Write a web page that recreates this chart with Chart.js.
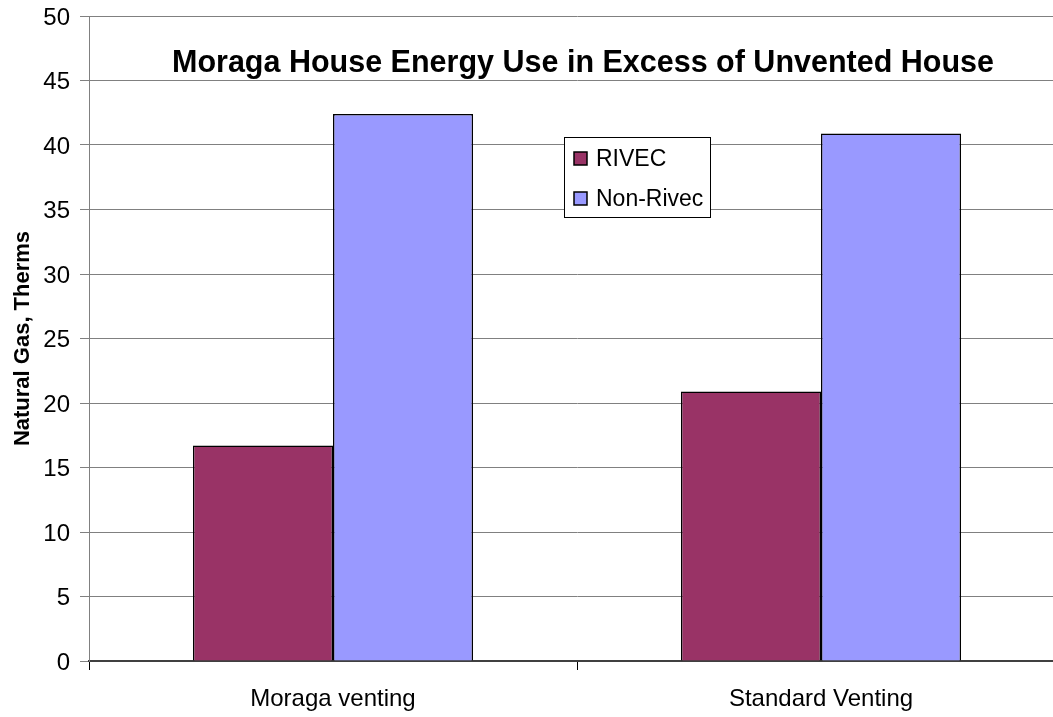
<!DOCTYPE html>
<html>
<head>
<meta charset="utf-8">
<script src="https://cdn.jsdelivr.net/npm/chart.js@4/dist/chart.umd.min.js"></script>
<style>
html,body{margin:0;padding:0;overflow:hidden;background:#fff;width:1053px;height:717px;}
canvas{display:block;}
</style>
</head>
<body>
<canvas id="c" width="1066" height="717"></canvas>
<script>
const categories = ['Moraga venting', 'Standard Venting'];
const seriesNames = ['RIVEC', 'Non-Rivec'];
const rivecValues = [16.7, 20.9];
const nonRivecValues = [42.4, 40.9];
const seriesColors = ['#993366', '#9999FF'];
const chartTitle = 'Moraga House Energy Use in Excess of Unvented House';
const yAxisTitle = 'Natural Gas, Therms';
const yMin = 0, yMax = 50, yStep = 5;

const FONT = '"Liberation Sans", Arial, sans-serif';

const overlayPlugin = {
  id: 'overlay',
  afterDatasetsDraw(chart) {
    const ctx = chart.ctx;
    const a = chart.chartArea;
    ctx.save();
    // title
    ctx.font = 'bold 30.5px ' + FONT;
    ctx.fillStyle = '#000';
    ctx.textAlign = 'center';
    ctx.textBaseline = 'middle';
    ctx.fillText(chartTitle, a.left + 494, a.top + 48);
    // legend
    const lx = a.left + 475, ly = a.top + 121, lw = 146, lh = 80;
    ctx.fillStyle = '#fff';
    ctx.fillRect(lx, ly, lw, lh);
    ctx.strokeStyle = '#000';
    ctx.lineWidth = 1;
    ctx.strokeRect(lx + 0.5, ly + 0.5, lw, lh);
    ctx.font = '23px ' + FONT;
    ctx.textAlign = 'left';
    chart.data.datasets.forEach((ds, i) => {
      const cy = ly + 22 + i * 40;
      ctx.fillStyle = ds.backgroundColor;
      ctx.fillRect(lx + 10, cy - 7, 13, 13);
      ctx.lineWidth = 1.5;
      ctx.strokeStyle = '#000';
      ctx.strokeRect(lx + 10, cy - 7, 13, 13);
      ctx.fillStyle = '#000';
      ctx.fillText(ds.label, lx + 32, cy + 1);
    });
    ctx.restore();
  }
};

new Chart(document.getElementById('c'), {
  type: 'bar',
  data: {
    labels: categories,
    datasets: [
      { label: seriesNames[0], data: rivecValues, backgroundColor: seriesColors[0], borderColor: '#000', borderWidth: 1.5 },
      { label: seriesNames[1], data: nonRivecValues, backgroundColor: seriesColors[1], borderColor: '#000', borderWidth: 1.5 }
    ]
  },
  options: {
    responsive: false,
    animation: false,
    devicePixelRatio: 1,
    layout: { padding: { top: 16, right: 1, left: 0, bottom: 0 } },
    plugins: { legend: { display: false }, title: { display: false }, tooltip: { enabled: false } },
    datasets: { bar: { categoryPercentage: 0.574, barPercentage: 1 } },
    scales: {
      x: {
        grid: { offset: true, drawOnChartArea: false, drawTicks: true, tickLength: 9, color: '#000', lineWidth: 1 },
        border: { display: true, color: '#404040', width: 2 },
        ticks: { color: '#000', font: { family: FONT, size: 24 }, padding: 15, maxRotation: 0 },
        afterFit(s) { s.height = 56; }
      },
      y: {
        min: yMin, max: yMax,
        ticks: { stepSize: yStep, color: '#000', font: { family: FONT, size: 24 }, padding: 10, labelOffset: 2 },
        grid: { color: '#808080', lineWidth: 1, tickLength: 9, drawTicks: true },
        border: { display: true, color: '#808080', width: 1 },
        title: { display: true, text: yAxisTitle, color: '#000', font: { family: FONT, size: 22, weight: 'bold' }, padding: { top: 10, bottom: 0 } },
        afterFit(s) { s.width = 89; s.paddingTop = 0; s.paddingBottom = 0; }
      }
    }
  },
  plugins: [overlayPlugin]
});
</script>
</body>
</html>
